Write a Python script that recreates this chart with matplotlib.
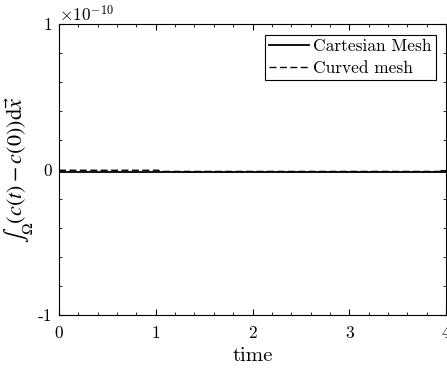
import numpy as np
import matplotlib
matplotlib.use("Agg")
from matplotlib import pyplot as plt
from matplotlib.ticker import MultipleLocator, FuncFormatter

plt.rcParams['font.family'] = 'serif'
plt.rcParams['font.serif'] = ['cmr10']
plt.rcParams['mathtext.fontset'] = 'cm'
plt.rcParams['axes.unicode_minus'] = False
plt.rcParams['axes.formatter.use_mathtext'] = True

# data (values in units of 1e-10)
t_cart = [0.0, 4.0]
cart = [-0.02, -0.02]
t_curv = [0.0, 1.03, 1.05, 4.0]
curv = [-0.005, -0.005, -0.013, -0.013]

fig = plt.figure(figsize=(4.47, 3.71), dpi=100)
ax = fig.add_axes([0.132, 0.151, 0.866, 0.784])
ax.plot(t_cart, cart, 'k-', lw=1.3, label='Cartesian Mesh')
ax.plot(t_curv, curv, 'k--', lw=1.0, dashes=(5, 2.5), label='Curved mesh')

ax.set_xlim(0, 4)
ax.set_ylim(-1, 1)
ax.xaxis.set_major_locator(MultipleLocator(1))
ax.xaxis.set_minor_locator(MultipleLocator(0.2))
ax.yaxis.set_major_locator(MultipleLocator(1))
ax.yaxis.set_minor_locator(MultipleLocator(0.2))
ax.xaxis.set_major_formatter(FuncFormatter(lambda v, p: '%d' % round(v)))
ax.yaxis.set_major_formatter(FuncFormatter(lambda v, p: '%d' % round(v)))
ax.tick_params(which='both', direction='in', top=True, right=True, labelsize=12.5)
ax.tick_params(which='major', length=4)
ax.tick_params(which='minor', length=2)
ax.tick_params(axis='x', which='major', pad=8)
ax.tick_params(axis='y', which='major', pad=5)
ax.text(0.0, 1.0, r'$\times10^{-10}$', transform=ax.transAxes, fontsize=12.5,
        ha='left', va='bottom')

ax.set_xlabel('time', fontsize=15, labelpad=4)
ax.set_ylabel(r'$\int_\Omega (c(t)-c(0))\mathrm{d}\vec{x}$', fontsize=16, labelpad=2,
              math_fontfamily='stix')
leg = ax.legend(loc='upper right', fontsize=12.5, fancybox=False, edgecolor='k',
                framealpha=1, borderpad=0.25, handlelength=2.3, handletextpad=0.2,
                labelspacing=0.35, borderaxespad=0.6)
leg.get_frame().set_linewidth(0.8)

fig.savefig('out.png', dpi=100)
